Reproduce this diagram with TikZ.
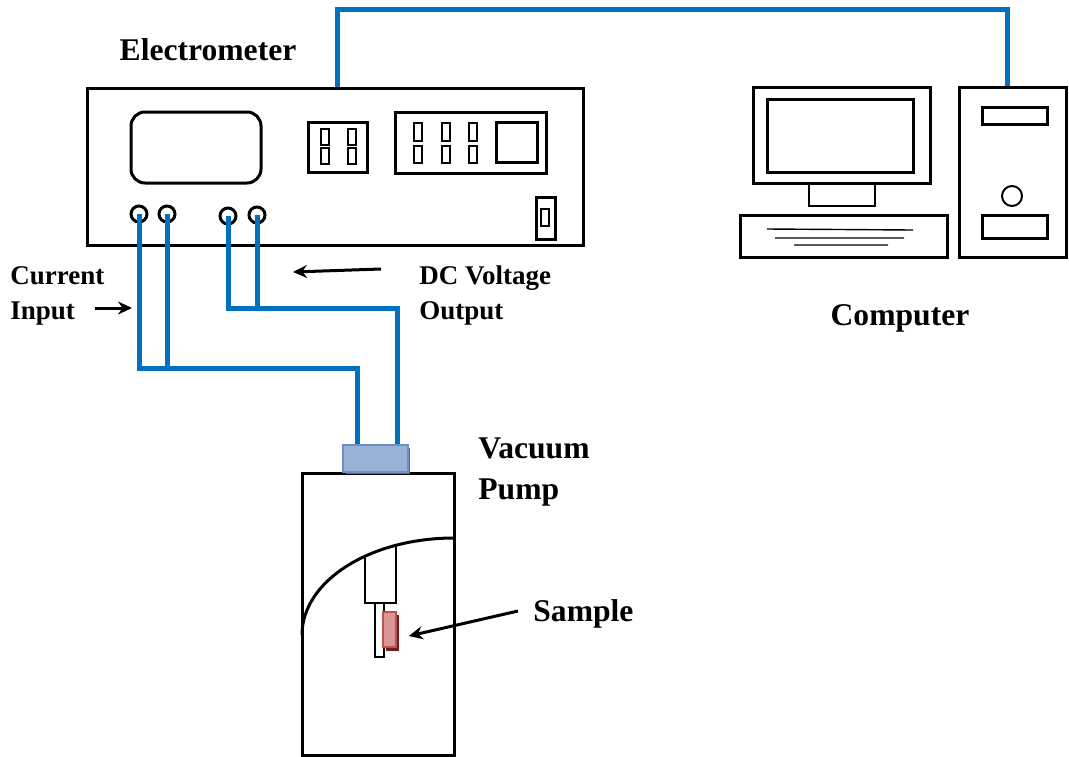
\documentclass[tikz,border=0pt]{standalone}
\usepackage{fontspec}
\setmainfont{Liberation Serif}
\usetikzlibrary{arrows.meta}

\definecolor{wireblue}{RGB}{0,112,192}
\definecolor{plugfill}{RGB}{149,179,215}
\definecolor{plugdraw}{RGB}{110,142,196}
\definecolor{plugshade}{RGB}{84,110,160}
\definecolor{samplefill}{RGB}{217,149,148}
\definecolor{sampledraw}{RGB}{192,80,77}
\definecolor{sampleshade}{RGB}{110,30,30}

\tikzset{
  box/.style={draw, line width=1.5pt},
  thin/.style={draw, line width=0.7pt},
  wire/.style={wireblue, line width=2.5pt},
  knob/.style={circle, draw, line width=1.5pt, minimum size=8pt, inner sep=0pt},
  plug/.style={draw=plugdraw, fill=plugfill, line width=0.8pt, minimum width=32.5pt, minimum height=13.5pt, inner sep=0pt},
  biglabel/.style={font=\fontsize{15.8}{20.5}\selectfont\bfseries, align=left, inner sep=0pt},
  smalllabel/.style={font=\fontsize{13.5}{17.5}\selectfont\bfseries, align=left, inner sep=0pt},
  pointer/.style={-{Stealth[length=7pt,width=6.5pt]}, line width=1.5pt},
}

\begin{document}
\begin{tikzpicture}[x=0.5pt, y=-0.5pt]
\useasboundingbox (0,0) rectangle (1069,756);

% electrometer front panel
\node[box, minimum width=248pt, minimum height=78.5pt, inner sep=0pt] (meter) at (335,166.5) {};
\draw[box, rounded corners=7pt] (131,112) rectangle (261,183);
\draw[box] (308,122) rectangle (367,172);
\foreach \x in {321,348}
  \foreach \y in {129,148}
    \draw[thin] (\x,\y) rectangle ++(8,16);
\draw[box] (395,112) rectangle (546,173);
\foreach \x in {414,442,469} {
  \draw[thin] (\x,123) rectangle ++(8,18);
  \draw[thin] (\x,146) rectangle ++(8,17);
}
\draw[box] (496,122) rectangle (537,162);
\draw[box] (536,197) rectangle (555,239);
\draw[thin] (541,209) rectangle (549,226);
\node[knob] (ci1) at (139,214) {};
\node[knob] (ci2) at (167,214) {};
\node[knob] (dv1) at (228,216) {};
\node[knob] (dv2) at (257,215) {};
\node[biglabel] (meterlbl) at (208,50) {Electrometer};

% computer
\draw[box] (753,87) rectangle (930,183);
\draw[box] (767,99) rectangle (913,172);
\draw[thin] (809,183) rectangle (875,206);
\draw[box] (740,215) rectangle (947,257);
\draw[thin] (767,229) -- (913,230) (775,238) -- (904,238) (794,245) -- (888,245);
\node[box, minimum width=53.5pt, minimum height=85pt, inner sep=0pt] (tower) at (1012.5,172) {};
\draw[box] (982,107) rectangle (1047,124);
\draw[line width=1pt] (1012,196) circle[radius=5pt];
\draw[box] (982,215) rectangle (1047,238);
\node[biglabel] (complbl) at (900,318) {Computer};

% vacuum chamber with sample holder
\draw[box] (302,473) rectangle (454,755);
\draw[box] (302,635) .. controls (302,581) and (370,538) .. (454,538);
\draw[line width=1pt] (365,556) -- (365,603) -- (396,603) -- (396,545);
\draw[line width=0.8pt] (375,603) rectangle (384,657);
\fill[sampleshade] (386,615) rectangle (399,651);
\node[draw=sampledraw, fill=samplefill, line width=0.8pt, minimum width=6.5pt, minimum height=17.5pt, inner sep=0pt] (sample) at (389.5,629.5) {};
\node[biglabel, anchor=west] (pumplbl) at (478,472) {Vacuum\\Pump};
\node[biglabel, anchor=west] (samplelbl) at (533,614) {Sample};

% cables
\coordinate (ibus) at (0,368);
\coordinate (vbus) at (0,308);
\draw[wire] ([xshift=1pt]meter.north) -- ++(0,-77) -| ([xshift=-2.5pt]tower.north);
\draw[wire] (ci1.center) -- (ci1.center |- ibus) -| (357,446);
\draw[wire] (ci2.center) -- (ci2.center |- ibus);
\draw[wire] (dv1.center) -- (dv1.center |- vbus) -| (397,446);
\draw[wire] (dv2.center) -- (dv2.center |- vbus);
\fill[plugshade] (346,448) rectangle (410,474);
\node[plug] (plug) at (375.5,458.5) {};

% labels and pointers
\node[smalllabel, anchor=west] (cilbl) at (10,295.5) {Current\\Input};
\node[smalllabel, anchor=west] (dvlbl) at (419,295.5) {DC Voltage\\Output};
\coordinate (ciarrow) at (95,308);
\coordinate (dvarrow) at (381,269);
\draw[pointer] (ciarrow) -- ++(37,0);
\draw[pointer] (dvarrow) -- ++(-88,3);
\draw[pointer] ([xshift=-7.5pt,yshift=1.5pt]samplelbl.west) -- ([xshift=6pt,yshift=-3.25pt]sample.east);
\end{tikzpicture}
\end{document}
